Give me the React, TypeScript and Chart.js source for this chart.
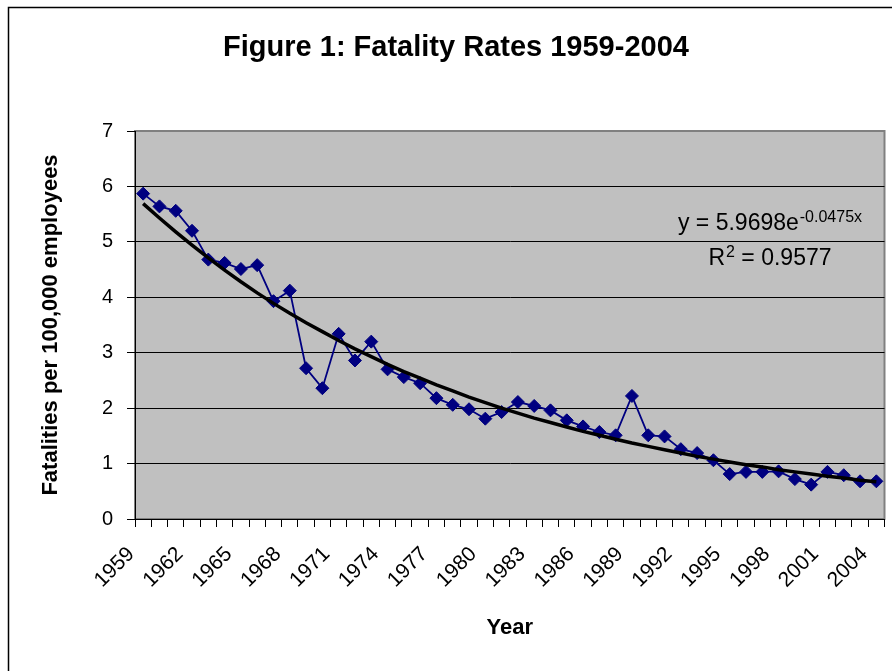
import React, { useEffect, useRef } from "react";
import { Chart, registerables } from "chart.js";

Chart.register(...registerables);

const YEARS: string[] = [
  "1959", "1960", "1961", "1962", "1963", "1964", "1965", "1966", "1967", "1968",
  "1969", "1970", "1971", "1972", "1973", "1974", "1975", "1976", "1977", "1978",
  "1979", "1980", "1981", "1982", "1983", "1984", "1985", "1986", "1987", "1988",
  "1989", "1990", "1991", "1992", "1993", "1994", "1995", "1996", "1997", "1998",
  "1999", "2000", "2001", "2002", "2003", "2004",
];

const FATALITY_RATES: number[] = [
  5.87, 5.64, 5.56, 5.2, 4.68, 4.62, 4.51, 4.58, 3.93, 4.12,
  2.72, 2.36, 3.34, 2.86, 3.2, 2.7, 2.56, 2.45, 2.18, 2.06,
  1.98, 1.81, 1.93, 2.11, 2.04, 1.96, 1.78, 1.67, 1.57, 1.51,
  2.22, 1.51, 1.49, 1.26, 1.19, 1.06, 0.81, 0.85, 0.85, 0.86,
  0.72, 0.62, 0.85, 0.79, 0.68, 0.68,
];

// Exponential trendline values (as shown by the fitted curve on the chart)
const TREND_VALUES: number[] = [
  5.69, 5.43, 5.18, 4.94, 4.71, 4.49, 4.28, 4.08, 3.89, 3.71,
  3.54, 3.38, 3.22, 3.07, 2.93, 2.79, 2.66, 2.54, 2.42, 2.31,
  2.2, 2.1, 2.0, 1.91, 1.82, 1.74, 1.66, 1.58, 1.51, 1.44,
  1.37, 1.31, 1.25, 1.19, 1.13, 1.08, 1.03, 0.98, 0.94, 0.89,
  0.85, 0.81, 0.77, 0.74, 0.7, 0.67,
];

const TITLE = "Figure 1: Fatality Rates 1959-2004";
const Y_TITLE = "Fatalities per 100,000 employees";
const X_TITLE = "Year";
const EQ_MAIN = "y = 5.9698e";
const EQ_SUP = "-0.0475x";
const R_MAIN = "R";
const R_SUP = "2";
const R_REST = " = 0.9577";

const FONT = "'Liberation Sans', Arial, Helvetica, sans-serif";

const decorPlugin = {
  id: "decor",
  beforeDraw(chart: any) {
    const { ctx, chartArea } = chart;
    ctx.save();
    // outer chart border
    ctx.strokeStyle = "#000";
    ctx.lineWidth = 1.5;
    ctx.strokeRect(8.5, 7.5, 1000, 1000);
    // plot area
    ctx.fillStyle = "#C0C0C0";
    ctx.fillRect(chartArea.left, chartArea.top, chartArea.right - chartArea.left, chartArea.bottom - chartArea.top);
    ctx.strokeStyle = "#808080";
    ctx.lineWidth = 2;
    ctx.strokeRect(chartArea.left, chartArea.top, chartArea.right - chartArea.left, chartArea.bottom - chartArea.top);
    ctx.restore();
  },
  afterDatasetsDraw(chart: any) {
    const { ctx, chartArea } = chart;
    const cx = chartArea.right - 115;
    const yScale = chart.scales.y;
    const base1 = yScale.getPixelForValue(5) - 12;
    const base2 = yScale.getPixelForValue(5) + 23;
    ctx.save();
    ctx.fillStyle = "#000";
    ctx.textBaseline = "alphabetic";
    ctx.textAlign = "left";
    const big = `23px ${FONT}`;
    const small = `16px ${FONT}`;
    // line 1
    ctx.font = big;
    const w1 = ctx.measureText(EQ_MAIN).width;
    ctx.font = small;
    const w2 = ctx.measureText(EQ_SUP).width;
    let x = cx - (w1 + w2) / 2;
    ctx.font = big;
    ctx.fillText(EQ_MAIN, x, base1);
    ctx.font = small;
    ctx.fillText(EQ_SUP, x + w1 + 1, base1 - 8);
    // line 2
    ctx.font = big;
    const r1 = ctx.measureText(R_MAIN).width;
    const r3 = ctx.measureText(R_REST).width;
    ctx.font = small;
    const r2 = ctx.measureText(R_SUP).width;
    x = cx - (r1 + r2 + r3) / 2;
    ctx.font = big;
    ctx.fillText(R_MAIN, x, base2);
    ctx.font = small;
    ctx.fillText(R_SUP, x + r1 + 1, base2 - 8);
    ctx.font = big;
    ctx.fillText(R_REST, x + r1 + r2 + 1, base2);
    ctx.restore();
  },
};

export default function App() {
  const canvasRef = useRef<HTMLCanvasElement | null>(null);

  useEffect(() => {
    const canvas = canvasRef.current;
    if (!canvas) return;
    const chart = new Chart(canvas, {
      type: "line",
      data: {
        labels: YEARS,
        datasets: [
          {
            label: "Trend",
            data: TREND_VALUES,
            borderColor: "#000",
            borderWidth: 3.5,
            pointRadius: 0,
            tension: 0,
            fill: false,
            order: 0,
          },
          {
            label: "Fatality rate",
            data: FATALITY_RATES,
            borderColor: "#000080",
            backgroundColor: "#000080",
            borderWidth: 1.8,
            pointStyle: "rectRot",
            pointRadius: 6.5,
            pointBorderWidth: 1,
            pointBackgroundColor: "#000080",
            pointBorderColor: "#000080",
            tension: 0,
            fill: false,
            order: 1,
          },
        ],
      },
      options: {
        responsive: false,
        animation: false,
        devicePixelRatio: 1,
        layout: { padding: { left: 24, right: 4, top: 0, bottom: 0 } },
        plugins: {
          legend: { display: false },
          tooltip: { enabled: false },
          title: {
            display: true,
            text: TITLE,
            color: "#000",
            font: { family: FONT, size: 29, weight: "bold", lineHeight: 1.2 },
            padding: { top: 31, bottom: 65.2 },
          },
        },
        scales: {
          x: {
            type: "category",
            offset: true,
            afterFit(scale: any) {
              scale.height = 152;
              scale.paddingLeft = 0;
              scale.paddingRight = 0;
            },
            grid: {
              offset: true,
              drawOnChartArea: false,
              drawTicks: true,
              tickLength: 8,
              color: "#000",
              tickColor: "#000",
            },
            border: { display: true, color: "#000", width: 1 },
            ticks: {
              autoSkip: false,
              maxRotation: 45,
              minRotation: 45,
              color: "#000",
              padding: 15,
              labelOffset: -12,
              font: { family: FONT, size: 21 },
              callback: (_v: any, i: number) => (i % 3 === 0 ? YEARS[i] : ""),
            },
            title: {
              display: true,
              text: X_TITLE,
              color: "#000",
              font: { family: FONT, size: 22, weight: "bold", lineHeight: 1.2 },
              padding: { top: 0, bottom: 29.8 },
            },
          },
          y: {
            min: 0,
            max: 7,
            afterFit(scale: any) {
              scale.width = 111;
            },
            grid: {
              color: (c: any) => (c.tick && c.tick.value === 7 ? "#808080" : "#000"),
              tickColor: "#000",
              tickLength: 8,
              lineWidth: 1,
            },
            border: { display: true, color: "#000", width: 1 },
            ticks: {
              stepSize: 1,
              color: "#000",
              padding: 14,
              font: { family: FONT, size: 20 },
            },
            title: {
              display: true,
              text: Y_TITLE,
              color: "#000",
              font: { family: FONT, size: 22, weight: "bold", lineHeight: 1.2 },
              padding: { top: 13.8, bottom: 0 },
            },
          },
        },
      },
      plugins: [decorPlugin],
    });
    return () => chart.destroy();
  }, []);

  return (
    <div style={{ position: "absolute", left: 0, top: 0, width: 892, height: 671, background: "#fff" }}>
      <canvas ref={canvasRef} width={892} height={671} style={{ display: "block", width: 892, height: 671 }} />
    </div>
  );
}
